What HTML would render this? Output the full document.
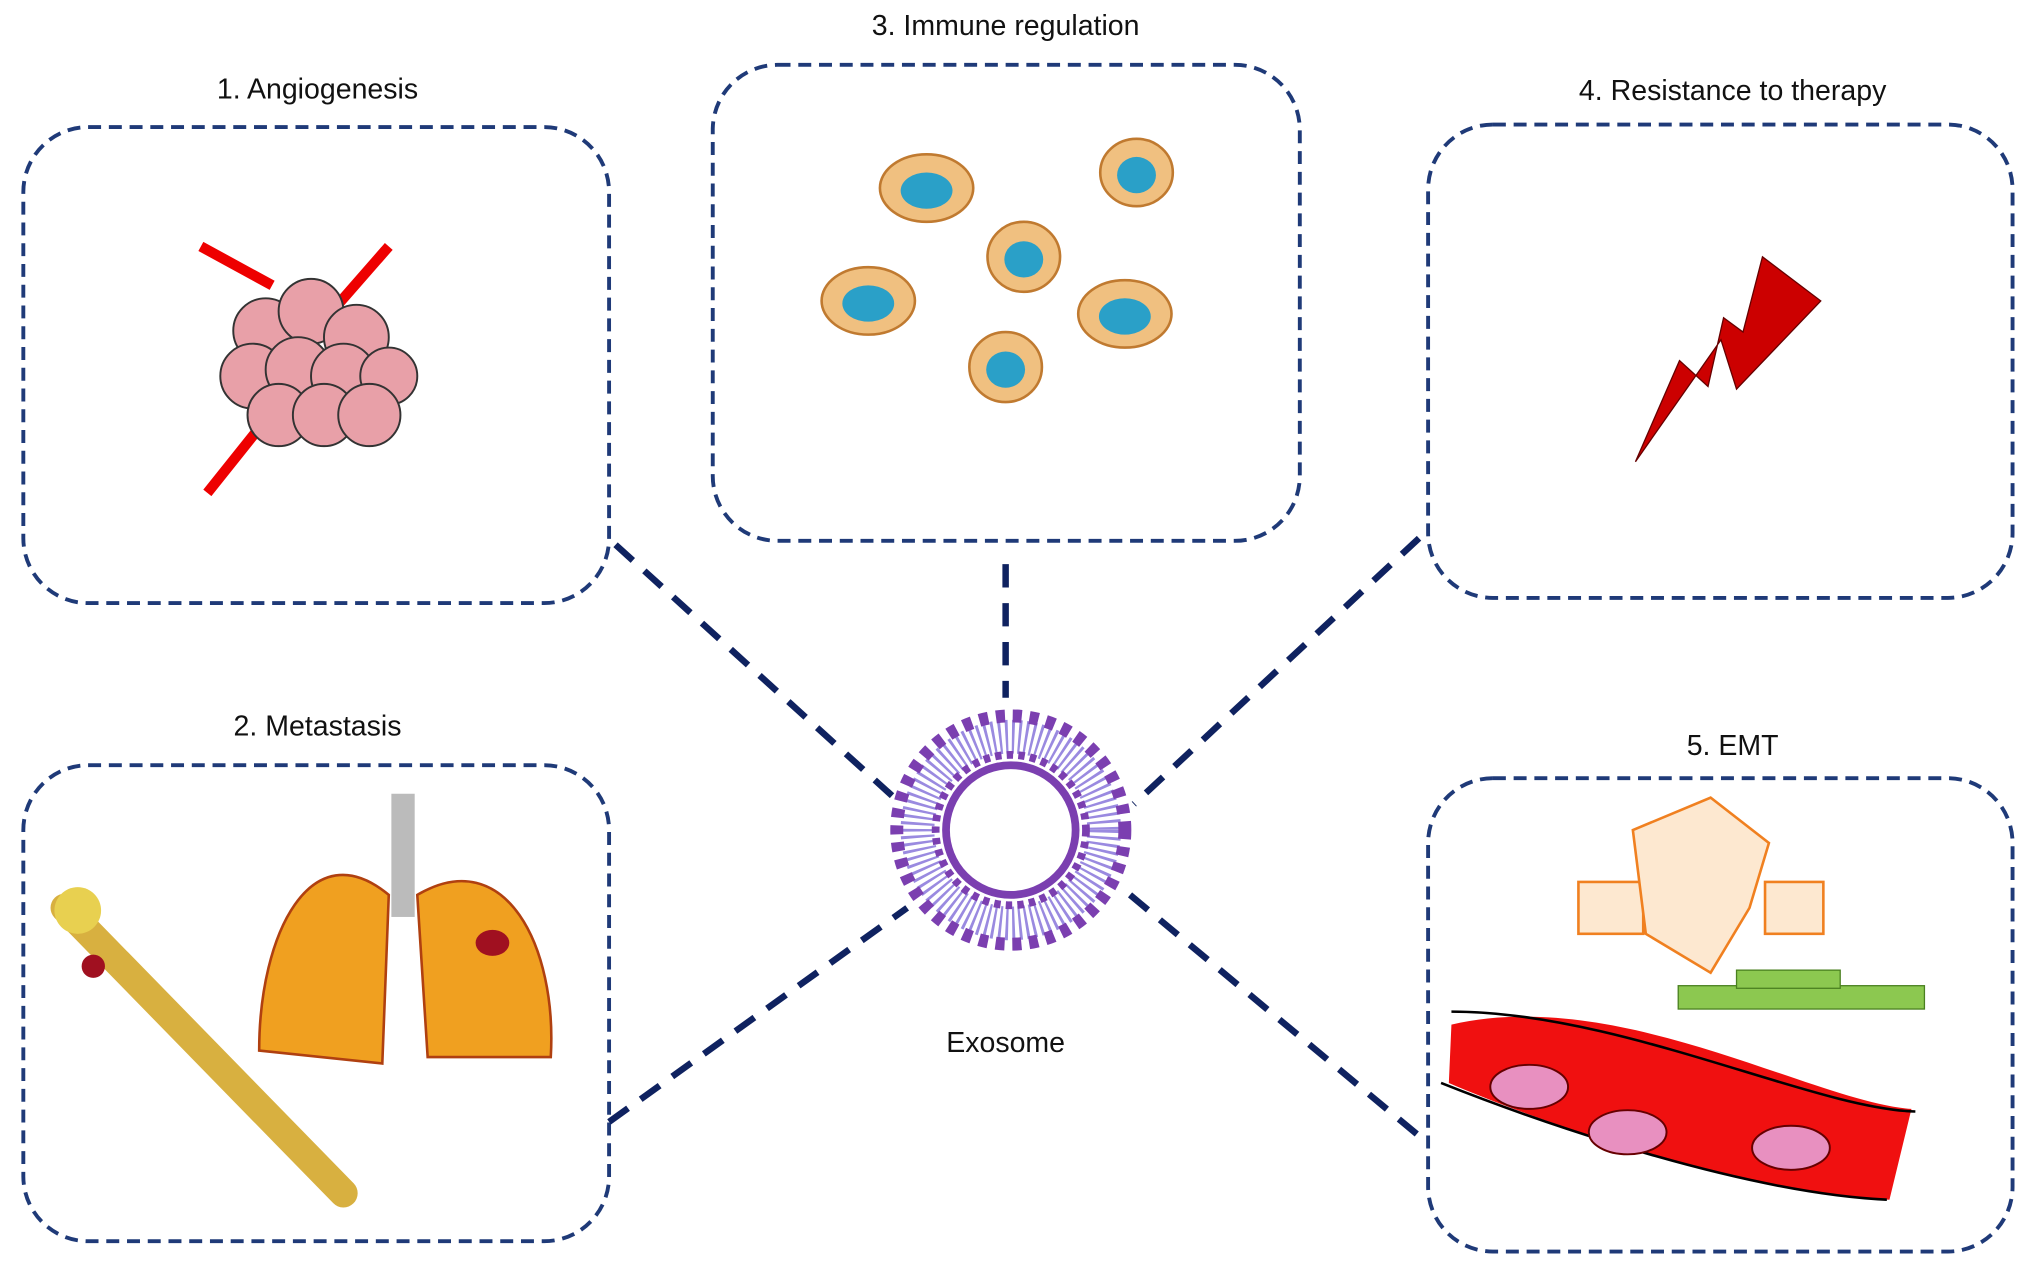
<!DOCTYPE html>
<html><head><meta charset="utf-8"><style>html,body{margin:0;padding:0;background:#fff}svg{display:block}</style></head>
<body>
<svg width="2032" height="1284" viewBox="0 0 1568 990" preserveAspectRatio="none" xmlns="http://www.w3.org/2000/svg" font-family="Liberation Sans, sans-serif">
<g fill="none" stroke="#1f3a78" stroke-width="3" stroke-dasharray="10,6">
<rect x="18" y="98" width="452" height="367" rx="50"/>
<rect x="18" y="590" width="452" height="367" rx="50"/>
<rect x="550" y="50" width="453" height="367" rx="50"/>
<rect x="1102" y="96" width="451" height="365" rx="50"/>
<rect x="1102" y="600" width="451" height="365" rx="50"/>
</g>
<g stroke="#0f2260" stroke-width="5" stroke-dasharray="18,12" fill="none">
<line x1="475" y1="420" x2="690" y2="615"/>
<line x1="776" y1="435" x2="776" y2="538"/>
<line x1="1095" y1="415" x2="875" y2="620"/>
<line x1="470" y1="865" x2="700" y2="700"/>
<line x1="872" y1="690" x2="1100" y2="880"/>
</g>
<g font-size="22" fill="#111" text-anchor="middle">
<text x="245" y="76">1. Angiogenesis</text>
<text x="245" y="567">2. Metastasis</text>
<text x="776" y="27">3. Immune regulation</text>
<text x="1337" y="77">4. Resistance to therapy</text>
<text x="1337" y="582">5. EMT</text>
<text x="776" y="811">Exosome</text>
</g>
<!-- exosome -->
<g>
<circle cx="780" cy="640" r="72" fill="none" stroke="#9a8ae0" stroke-width="26" stroke-dasharray="2,3"/>
<circle cx="780" cy="640" r="50" fill="none" stroke="#7b3fb0" stroke-width="6"/>
<circle cx="780" cy="640" r="88" fill="none" stroke="#7b3fb0" stroke-width="10" stroke-dasharray="7,6"/>
<circle cx="780" cy="640" r="58" fill="none" stroke="#7b3fb0" stroke-width="6" stroke-dasharray="5,4"/>
</g>
<!-- angiogenesis -->
<g stroke="#333" stroke-width="1.5" fill="#e8a0a8">
<path d="M155 190 L210 220 M230 270 L300 190 M160 380 L200 330" stroke="#e00" stroke-width="8"/>
<circle cx="205" cy="255" r="25"/><circle cx="240" cy="240" r="25"/><circle cx="275" cy="260" r="25"/>
<circle cx="195" cy="290" r="25"/><circle cx="230" cy="285" r="25"/><circle cx="265" cy="290" r="25"/>
<circle cx="300" cy="290" r="22"/><circle cx="215" cy="320" r="24"/><circle cx="250" cy="320" r="24"/><circle cx="285" cy="320" r="24"/>
</g>
<!-- immune cells -->
<g stroke="#c07a30" stroke-width="2" fill="#f0c080">
<ellipse cx="715" cy="145" rx="36" ry="26"/><ellipse cx="877" cy="133" rx="28" ry="26"/><ellipse cx="790" cy="198" rx="28" ry="27"/>
<ellipse cx="670" cy="232" rx="36" ry="26"/><ellipse cx="868" cy="242" rx="36" ry="26"/><ellipse cx="776" cy="283" rx="28" ry="27"/>
</g>
<g fill="#2aa0c8"><ellipse cx="715" cy="147" rx="20" ry="14"/><ellipse cx="877" cy="135" rx="15" ry="14"/><ellipse cx="790" cy="200" rx="15" ry="14"/><ellipse cx="670" cy="234" rx="20" ry="14"/><ellipse cx="868" cy="244" rx="20" ry="14"/><ellipse cx="776" cy="285" rx="15" ry="14"/></g>
<!-- lightning -->
<polygon points="1360,198 1405,232 1340,300 1328,262 1262,356 1296,278 1318,298 1330,245 1345,256" fill="#c00" stroke="#600" stroke-width="1"/>
<!-- bone & lungs -->
<path d="M50 700 L265 920" stroke="#d8b040" stroke-width="22" stroke-linecap="round"/>
<circle cx="60" cy="702" r="18" fill="#e8d050"/><circle cx="72" cy="745" r="9" fill="#a01020"/>
<rect x="302" y="612" width="18" height="95" fill="#bbb"/>
<path d="M300 690 C240 640 200 720 200 810 L295 820 Z" fill="#f0a020" stroke="#b04010" stroke-width="2"/>
<path d="M322 690 C390 650 430 730 425 815 L330 815 Z" fill="#f0a020" stroke="#b04010" stroke-width="2"/>
<ellipse cx="380" cy="727" rx="13" ry="10" fill="#a01020"/>
<!-- EMT -->
<g stroke="#f08020" stroke-width="2" fill="#fde8d0">
<rect x="1218" y="680" width="50" height="40"/><rect x="1362" y="680" width="45" height="40"/>
<path d="M1260 640 L1320 615 L1365 650 L1350 700 L1320 750 L1270 720 Z"/>
</g>
<g fill="#8cc850" stroke="#4a8020"><rect x="1295" y="760" width="190" height="18"/><rect x="1340" y="748" width="80" height="14"/></g>
<path d="M1120 790 C1250 760 1400 850 1475 855 L1458 925 C1350 920 1200 870 1118 835 Z" fill="#f01010"/>
<path d="M1120 780 C1250 780 1400 855 1478 857 M1112 835 C1200 870 1350 920 1456 925" stroke="#000" stroke-width="2" fill="none"/>
<g fill="#e890c0" stroke="#600" stroke-width="1.5"><ellipse cx="1180" cy="838" rx="30" ry="17"/><ellipse cx="1256" cy="873" rx="30" ry="17"/><ellipse cx="1382" cy="885" rx="30" ry="17"/></g>
</svg>
</body></html>
